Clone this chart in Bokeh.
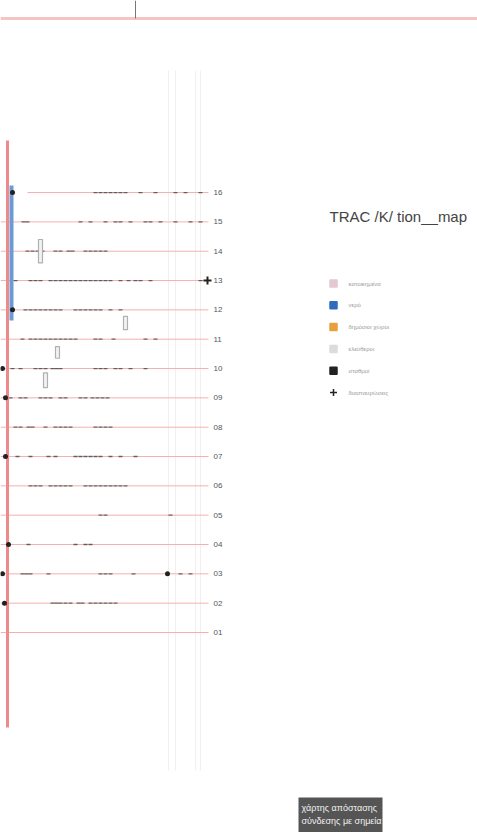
from bokeh.plotting import figure
from bokeh.models import Range1d
from bokeh.core.properties import value
from bokeh.embed import file_html
from bokeh.resources import INLINE

# ---------------- data ----------------
rows = list(range(1, 17))
row_labels = ["%02d" % r for r in rows]
row_start = [0, 0, 0, 0, 0, 0, 0, 0, 0, 0, 0, 0, 0, 0, 0, 27]
row_end = [208] * 16

# small event marks (distance along each row)
marks = {
    16: [95, 100, 105, 110, 115, 120, 125, 140, 155, 175, 185, 200],
    15: [23, 27, 80, 90, 105, 115, 120, 130, 145, 150, 160, 175, 190, 200],
    14: [27, 32, 37, 42, 55, 60, 68, 72, 85, 90, 95, 100, 105],
    13: [15, 30, 35, 40, 50, 55, 60, 65, 70, 75, 80, 85, 90, 95, 100, 105, 110, 120, 128, 135, 140, 150, 200],
    12: [25, 30, 35, 40, 45, 50, 55, 60, 75, 80, 85, 90, 95, 100, 110, 120],
    11: [22, 30, 35, 40, 45, 50, 55, 60, 65, 70, 75, 95, 100, 113, 145, 155],
    10: [12, 20, 35, 40, 45, 52, 56, 60, 95, 100, 105, 115, 120, 130, 145],
    9: [10, 20, 25, 40, 45, 50, 60, 65, 80, 85, 92, 97, 102, 107],
    8: [15, 20, 28, 32, 45, 55, 60, 65, 70, 95, 100, 105, 110],
    7: [17, 30, 48, 55, 75, 80, 85, 90, 95, 100, 110, 120, 135],
    6: [30, 35, 40, 50, 55, 60, 65, 70, 85, 90, 95, 100, 105, 110, 115, 120, 125],
    5: [100, 105, 170],
    4: [28, 75, 85, 90],
    3: [22, 26, 30, 48, 100, 105, 110, 133, 180, 190],
    2: [52, 56, 60, 65, 70, 78, 82, 90, 95, 100, 105, 110, 115],
    1: [],
}

# large node points (row, distance)
node_rows = [16, 12, 10, 9, 7, 4, 3, 2, 3]
node_dist = [12, 12, 2, 5, 5, 8, 2, 4, 167]

# stop markers (cross)
stop_rows = [13]
stop_dist = [207]

# grey brackets
bracket_left = [38, 123, 55, 43]
bracket_right = [42, 127, 59, 47]
bracket_row = [14.0, 11.55, 10.55, 9.6]
bracket_h = [0.8, 0.45, 0.4, 0.5]

# legend
legend_labels = ["κατοικημένα", "νερό", "δημόσιοι χώροι", "ελεύθεροι", "σταθμοί", "διασταυρώσεις"]
legend_colors = ["#e4c8d2", "#2f6cc0", "#e8a03c", "#dcdcdc", "#222222", "#222222"]
legend_markers = ["square", "square", "square", "square", "square", "cross"]

title_text = "TRAC /K/ tion__map"
box_lines = ["χάρτης απόστασης", "σύνδεσης με σημεία"]

# ---------------- figure ----------------
W, H = 477, 832
ROW_PX = 29.33
def Y(py):  # image pixel -> row units
    return 1 + (632 - py) / ROW_PX

p = figure(width=W, height=H, output_backend="svg", toolbar_location=None,
           x_range=Range1d(0, W), y_range=Range1d(Y(H), Y(0)),
           min_border=0, background_fill_color="white", border_fill_color="white")
p.axis.visible = False
p.grid.visible = False
p.outline_line_color = None

# faint vertical guides
for gx in [168, 175, 195, 200]:
    p.segment(x0=gx, y0=Y(70), x1=gx, y1=Y(770), line_color="#f0f0f0", line_width=1)

# top pink line and tick
p.segment(x0=0, y0=Y(18), x1=480, y1=Y(18), line_color="#f7c4c4", line_width=3)
p.segment(x0=135, y0=Y(0), x1=135, y1=Y(18), line_color="#777777", line_width=1)

# row lines
p.segment(x0=row_start, y0=rows, x1=row_end, y1=rows, line_color="#f4b0b0", line_width=1)

# marks
mx, my = [], []
for r, ds in marks.items():
    for d in ds:
        mx.append(d); my.append(r)
p.scatter(mx, my, marker="dash", size=4, line_color="#333333", line_width=1.3, line_alpha=0.7)

# brackets
p.quad(left=bracket_left, right=bracket_right,
       bottom=[r - h / 2 for r, h in zip(bracket_row, bracket_h)],
       top=[r + h / 2 for r, h in zip(bracket_row, bracket_h)],
       fill_color="#f2f2f2", line_color="#b0b0b0", line_width=1.2)

# red vertical spine and blue bar
p.segment(x0=7, y0=Y(140), x1=7, y1=Y(727), line_color="#ef8a8a", line_width=3)
p.segment(x0=11, y0=Y(185), x1=11, y1=Y(320), line_color="#6a9bd8", line_width=4)

# nodes and stops
p.scatter(node_dist, node_rows, marker="circle", size=5, fill_color="#222222", line_color=None)
p.scatter(stop_dist, stop_rows, marker="cross", size=8, line_color="#222222", line_width=2)

# row labels
p.text(x=[213] * 16, y=rows, text=row_labels, text_font=value("Liberation Sans"),
       text_font_size="8px", text_color="#555555", text_baseline="middle")

# title
p.text(x=[329], y=[Y(216)], text=[title_text], text_font=value("Liberation Sans"),
       text_font_size="15px", text_color="#444444", text_baseline="middle")

# legend
ly = [Y(283 + i * 21.8) for i in range(6)]
p.scatter([333] * 6, ly, marker=legend_markers, size=7,
          fill_color=legend_colors, line_color=legend_colors, line_width=1.5)
p.text(x=[348] * 6, y=ly, text=legend_labels, text_font=value("Liberation Sans"),
       text_font_size="6px", text_color="#999999", text_baseline="middle")

# caption box
p.quad(left=[298], right=[382], top=[Y(797)], bottom=[Y(840)], fill_color="#555555", line_color=None)
p.text(x=[301, 301], y=[Y(807), Y(820)], text=box_lines, text_font=value("Liberation Sans"),
       text_font_size="9px", text_color="#f2f2f2", text_baseline="middle")

open("out.html", "w").write(file_html(p, INLINE))
